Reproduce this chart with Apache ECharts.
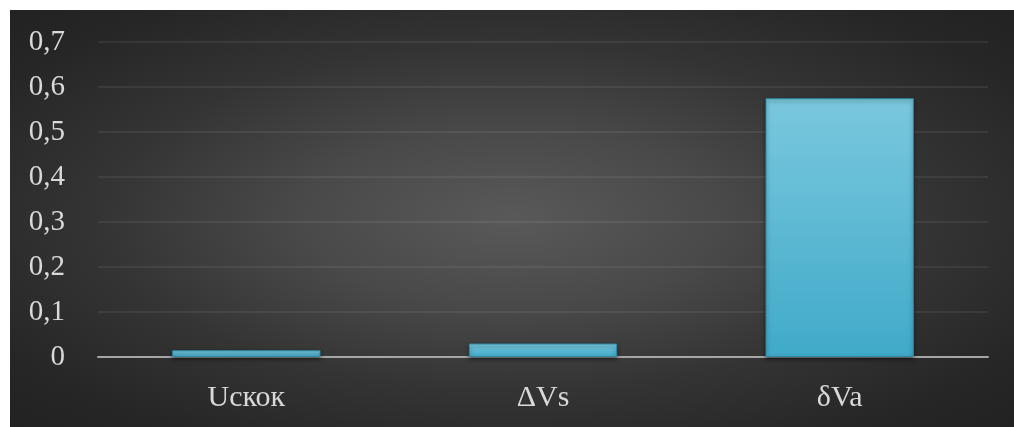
<!DOCTYPE html>
<html>
<head>
<meta charset="utf-8">
<script src="https://cdn.jsdelivr.net/npm/echarts@6/dist/echarts.min.js"></script>
<style>
html,body{margin:0;padding:0;background:#fff;}
#c{position:absolute;left:10px;top:10px;width:1004px;height:417px;
  background: radial-gradient(ellipse farthest-corner at 50% 50%, #595959 0%, #494949 30%, #343434 58%, #262626 85%, #222222 100%);}
</style>
</head>
<body>
<div id="c"></div>
<script>
const categories = ['Uскок', 'ΔVs', 'δVa'];
const values = [0.015, 0.03, 0.575];
const yTicks = { min: 0, max: 0.7, interval: 0.1 };

const chart = echarts.init(document.getElementById('c'), null, { renderer: 'canvas' });
const font = '"Liberation Serif", "DejaVu Serif", serif';
chart.setOption({
  backgroundColor: 'transparent',
  animation: false,
  grid: { left: 88, right: 26, top: 32, bottom: 70 },
  xAxis: {
    type: 'category',
    data: categories,
    axisLine: { lineStyle: { color: '#a6a6a6', width: 2 } },
    axisTick: { show: false },
    axisLabel: { color: '#d9d9d9', fontFamily: font, fontSize: 30, margin: 26 }
  },
  yAxis: {
    type: 'value',
    min: yTicks.min, max: yTicks.max, interval: yTicks.interval,
    axisLine: { show: false },
    axisTick: { show: false },
    splitLine: { lineStyle: { color: 'rgba(255,255,255,0.09)', width: 1.5 } },
    axisLabel: {
      color: '#d9d9d9', fontFamily: font, fontSize: 29, margin: 33,
      formatter: v => (Math.round(v * 10) / 10).toString().replace('.', ',')
    }
  },
  series: [{
    type: 'bar',
    data: values,
    barWidth: '50%',
    itemStyle: {
      color: {
        type: 'linear', x: 0, y: 0, x2: 0, y2: 1,
        colorStops: [
          { offset: 0, color: '#7ac8de' },
          { offset: 1, color: '#40aac9' }
        ]
      },
      borderColor: '#2f8aa4',
      borderWidth: 1,
      shadowColor: 'rgba(0,0,0,0.5)',
      shadowBlur: 4,
      shadowOffsetY: 2
    }
  }]
});
</script>
</body>
</html>
